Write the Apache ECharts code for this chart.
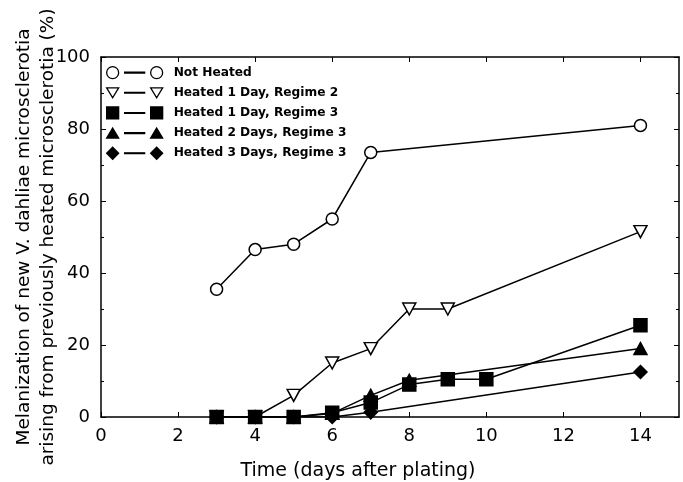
<!DOCTYPE html>
<html>
<head>
<meta charset="utf-8">
<script src="https://cdn.jsdelivr.net/npm/echarts@6/dist/echarts.min.js"></script>
<style>
  html, body { margin: 0; padding: 0; background: #fff; }
  #chart { width: 683px; height: 482px; }
</style>
</head>
<body>
<div id="chart"></div>
<script>
// values (days after plating, % melanized)
var notHeatedX = [3, 4, 5, 6, 7, 14];
var notHeatedY = [35.5, 46.5, 48, 55, 73.5, 81];
var day1reg2X = [3, 4, 5, 6, 7, 8, 9, 14];
var day1reg2Y = [0, 0, 6, 15, 19, 30, 30, 51.5];
var day1reg3X = [3, 4, 5, 6, 7, 8, 9, 10, 14];
var day1reg3Y = [0, 0, 0, 1.2, 4, 9, 10.5, 10.5, 25.5];
var day2reg3X = [3, 4, 5, 6, 7, 8, 14];
var day2reg3Y = [0, 0, 0, 1, 6, 10.2, 19];
var day3reg3X = [3, 4, 5, 6, 7, 14];
var day3reg3Y = [0, 0, 0, 0, 1.3, 12.5];
var xTicks = [0, 2, 4, 6, 8, 10, 12, 14];

var seriesNames = ['Not Heated', 'Heated 1 Day, Regime 2', 'Heated 1 Day, Regime 3',
                   'Heated 2 Days, Regime 3', 'Heated 3 Days, Regime 3'];

function pairs(xs, ys) {
    var out = [];
    for (var i = 0; i < xs.length; i++) out.push([xs[i], ys[i]]);
    return out;
}

var downTri = 'path://M0,0 L10,0 L5,9 Z';
var upTri = 'path://M5,0 L10,9 L0,9 Z';
var diamond = 'path://M5,0 L10,5 L5,10 L0,5 Z';

// legend icons: marker -- line -- marker
var dash = ' M18,5.6 h20 v0.8 h-20 Z ';
var legCircle = 'path://M0,6 a6,6 0 1,0 12,0 a6,6 0 1,0 -12,0 Z' + dash + 'M44,6 a6,6 0 1,0 12,0 a6,6 0 1,0 -12,0 Z';
var legDown = 'path://M0,1 L12,1 L6,11 Z' + dash + 'M44,1 L56,1 L50,11 Z';
var legRect = 'path://M0,0 h12 v12 h-12 Z' + dash + 'M44,0 h12 v12 h-12 Z';
var legUp = 'path://M6,1 L12,11 L0,11 Z' + dash + 'M50,1 L56,11 L44,11 Z';
var legDiamond = 'path://M6,0 L12,6 L6,12 L0,6 Z' + dash + 'M50,0 L56,6 L50,12 L44,6 Z';
var legIcons = [legCircle, legDown, legRect, legUp, legDiamond];

function mkSeries(name, data, symbol, size, fill, z) {
    return {
        name: name,
        type: 'line',
        data: data,
        symbol: symbol,
        symbolSize: size,
        z: z,
        lineStyle: { color: '#000', width: 1.5 },
        itemStyle: { color: fill, borderColor: '#000', borderWidth: 1.5 },
        emphasis: { disabled: true },
        animation: false
    };
}

var myChart = echarts.init(document.getElementById('chart'));

var fontFam = '"DejaVu Sans", sans-serif';

var legendData = seriesNames.map(function (n, i) {
    return { name: n, icon: legIcons[i] };
});

option = {
    backgroundColor: '#fff',
    legend: {
        left: 101,
        top: 61,
        orient: 'vertical',
        itemWidth: 56,
        itemHeight: 12,
        itemGap: 7.5,
        itemStyle: { borderWidth: 1.3 },
        textStyle: { fontFamily: fontFam, fontSize: 12.2, fontWeight: 'bold', color: '#000', padding: [0, 0, 0, 6] },
        data: legendData
    },
    grid: {
        left: 101,
        right: 4,
        top: 57,
        bottom: 65,
        outerBoundsMode: 'none'
    },
    xAxis: [
        {
            type: 'value',
            min: 0,
            max: 15,
            name: 'Time (days after plating)',
            nameLocation: 'middle',
            nameGap: 45,
            nameTextStyle: { fontFamily: fontFam, fontSize: 19, color: '#000', padding: [0, 64, 0, 0] },
            axisLine: { onZero: false, lineStyle: { color: '#000', width: 1.5 } },
            axisTick: { inside: true, length: 5, customValues: xTicks, lineStyle: { color: '#000' } },
            axisLabel: { fontFamily: fontFam, fontSize: 18, color: '#000', margin: 10, customValues: xTicks },
            splitLine: { show: false }
        },
        {
            type: 'value',
            position: 'top',
            min: 0,
            max: 15,
            axisLine: { onZero: false, lineStyle: { color: '#000', width: 1.5 } },
            axisTick: { inside: true, length: 5, customValues: xTicks, lineStyle: { color: '#000' } },
            axisLabel: { show: false },
            splitLine: { show: false }
        }
    ],
    yAxis: [
        {
            type: 'value',
            min: 0,
            max: 100,
            interval: 20,
            name: 'Melanization of new V. dahliae microsclerotia\narising from previously heated microsclerotia (%)',
            nameLocation: 'middle',
            nameGap: 41,
            nameMoveOverlap: false,
            nameTextStyle: { fontFamily: fontFam, fontSize: 18.5, color: '#000', lineHeight: 24 },
            axisLine: { onZero: false, lineStyle: { color: '#000', width: 1.5 } },
            axisTick: { inside: true, length: 5, lineStyle: { color: '#000' } },
            minorTick: { show: true, splitNumber: 2, length: 3, lineStyle: { color: '#000' } },
            axisLabel: { fontFamily: fontFam, fontSize: 18, color: '#000', margin: 11 },
            splitLine: { show: false }
        },
        {
            type: 'value',
            position: 'right',
            min: 0,
            max: 100,
            interval: 20,
            axisLine: { show: true, onZero: false, lineStyle: { color: '#000', width: 1.5 } },
            axisTick: { show: true, inside: true, length: 5, lineStyle: { color: '#000' } },
            minorTick: { show: true, splitNumber: 2, length: 3, lineStyle: { color: '#000' } },
            axisLabel: { show: false },
            splitLine: { show: false }
        }
    ],
    series: [
        mkSeries(seriesNames[0], pairs(notHeatedX, notHeatedY), 'circle', 12, '#fff', 2),
        mkSeries(seriesNames[1], pairs(day1reg2X, day1reg2Y), downTri, [13, 12], '#fff', 2),
        mkSeries(seriesNames[2], pairs(day1reg3X, day1reg3Y), 'rect', 13, '#000', 5),
        mkSeries(seriesNames[3], pairs(day2reg3X, day2reg3Y), upTri, [13, 12], '#000', 4),
        mkSeries(seriesNames[4], pairs(day3reg3X, day3reg3Y), diamond, 13, '#000', 3)
    ]
};
myChart.setOption(option);
</script>
</body>
</html>
